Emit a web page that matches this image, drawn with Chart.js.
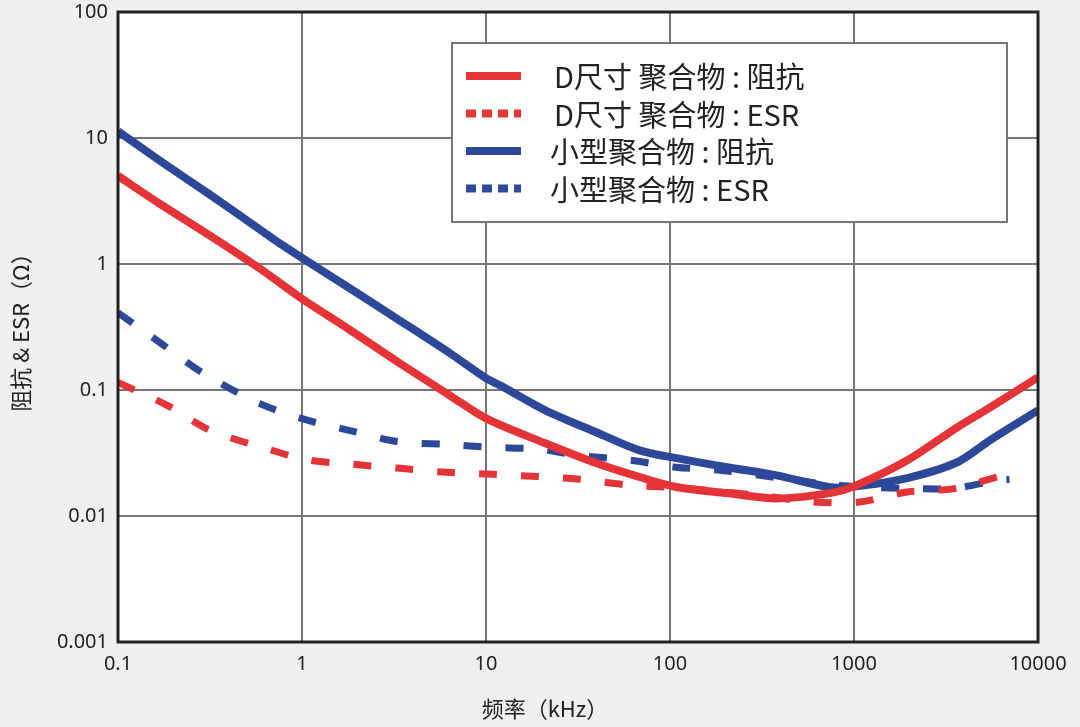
<!DOCTYPE html>
<html>
<head>
<meta charset="utf-8">
<script src="https://cdn.jsdelivr.net/npm/chart.js@4"></script>
<style>
  html, body { margin: 0; padding: 0; background: #f0f0f0; }
  #wrap { width: 1080px; height: 727px; position: relative; }
</style>
</head>
<body>
<div id="wrap"><canvas id="chart" width="1080" height="727"></canvas></div>
<script>
// values (frequency in kHz, ohms)
const dImpFreq = [0.1, 0.169, 0.316, 0.59, 1, 1.82, 3.4, 6.4, 10, 21, 40, 69, 110, 204, 380, 741, 1000, 1950, 3640, 5500, 10000];
const dImpVal  = [5.0, 3.0, 1.68, 0.92, 0.53, 0.30, 0.163, 0.09, 0.0596, 0.0378, 0.0262, 0.0203, 0.0169, 0.0152, 0.0138, 0.0152, 0.0172, 0.0277, 0.0506, 0.0728, 0.126];

const dEsrFreq = [0.1, 0.185, 0.316, 0.61, 1.06, 1.9, 3.3, 6.1, 10.9, 19, 32, 61, 107, 200, 350, 598, 1070, 1950, 3500, 6000, 6800];
const dEsrVal  = [0.115, 0.0755, 0.0478, 0.035, 0.028, 0.0257, 0.024, 0.0222, 0.0214, 0.0206, 0.0196, 0.0175, 0.0168, 0.0155, 0.0142, 0.0129, 0.0129, 0.0155, 0.0165, 0.0204, 0.021];

const smImpFreq = [0.1, 0.169, 0.316, 0.59, 0.76, 1, 1.82, 3.4, 6.4, 10, 11.9, 21, 40, 69, 110, 204, 380, 741, 1000, 1950, 3640, 5500, 10000];
const smImpVal  = [11.3, 6.6, 3.55, 1.88, 1.45, 1.12, 0.64, 0.356, 0.195, 0.124, 0.109, 0.069, 0.046, 0.033, 0.0287, 0.0244, 0.021, 0.0169, 0.0171, 0.020, 0.0267, 0.040, 0.069];

const smEsrFreq = [0.1, 0.169, 0.29, 0.59, 1.08, 1.9, 3.3, 6.1, 10.9, 19, 32, 61, 107, 190, 400, 800, 1860, 3500, 6000, 7000];
const smEsrVal  = [0.41, 0.238, 0.136, 0.078, 0.0574, 0.047, 0.039, 0.037, 0.035, 0.034, 0.0303, 0.0277, 0.0244, 0.023, 0.020, 0.0175, 0.0166, 0.0166, 0.0192, 0.0195];

const seriesNames = ['D尺寸 聚合物 : 阻抗', 'D尺寸 聚合物 : ESR', '小型聚合物 : 阻抗', '小型聚合物 : ESR'];
const xTicks = [0.1, 1, 10, 100, 1000, 10000];
const yTicks = [0.001, 0.01, 0.1, 1, 10, 100];
const xTitle = '频率（kHz）';
const yTitle = '阻抗 & ESR（Ω）';

const RED = '#e53437';
const BLUE = '#2d4898';
const DASH = [18, 24];

const toPoints = (xs, ys) => xs.map((x, i) => ({ x: x, y: ys[i] }));

const frame = {
    id: 'frame',
    beforeDraw(chart) {
        const { ctx, chartArea: a } = chart;
        ctx.save();
        ctx.fillStyle = '#ffffff';
        ctx.fillRect(a.left, a.top, a.right - a.left, a.bottom - a.top);
        ctx.restore();
    },
    afterDatasetsDraw(chart) {
        const { ctx, chartArea: a } = chart;
        ctx.save();
        ctx.strokeStyle = '#222';
        ctx.lineWidth = 3;
        ctx.strokeRect(a.left, a.top, a.right - a.left, a.bottom - a.top);

        // legend box inside the plot
        const bx = a.left + 334, by = a.top + 31, bw = 555, bh = 179;
        ctx.fillStyle = '#ffffff';
        ctx.fillRect(bx, by, bw, bh);
        ctx.strokeStyle = '#777';
        ctx.lineWidth = 2;
        ctx.strokeRect(bx, by, bw, bh);
        chart.data.datasets.forEach((ds, i) => {
            const cy = by + 33 + i * 37.5;
            ctx.strokeStyle = ds.borderColor;
            ctx.lineWidth = 8;
            ctx.setLineDash(ds.borderDash && ds.borderDash.length ? [10, 6] : []);
            ctx.beginPath();
            ctx.moveTo(bx + 14, cy);
            ctx.lineTo(bx + 69, cy);
            ctx.stroke();
            ctx.setLineDash([]);
            ctx.fillStyle = '#222';
            ctx.font = '29px "Noto Sans CJK SC", "Noto Sans", sans-serif';
            ctx.textBaseline = 'middle';
            ctx.textAlign = 'left';
            ctx.fillText(ds.label, bx + (i < 2 ? 102 : 98), cy + 1);
        });

        // axis titles
        ctx.fillStyle = '#222';
        ctx.font = '22px "Noto Sans CJK SC", "Noto Sans", sans-serif';
        ctx.textAlign = 'center';
        ctx.textBaseline = 'middle';
        ctx.fillText(xTitle, 545, 709);
        ctx.translate(21, (a.top + a.bottom) / 2);
        ctx.rotate(-Math.PI / 2);
        ctx.fillText(yTitle, 0, 0);
        ctx.restore();
    }
};

const fmt = v => String(v);

new Chart(document.getElementById('chart'), {
    type: 'line',
    data: {
        datasets: [
            { label: seriesNames[0], data: toPoints(dImpFreq, dImpVal), borderColor: RED, borderWidth: 8, borderDash: [] },
            { label: seriesNames[1], data: toPoints(dEsrFreq, dEsrVal), borderColor: RED, borderWidth: 7, borderDash: DASH },
            { label: seriesNames[2], data: toPoints(smImpFreq, smImpVal), borderColor: BLUE, borderWidth: 8, borderDash: [] },
            { label: seriesNames[3], data: toPoints(smEsrFreq, smEsrVal), borderColor: BLUE, borderWidth: 7, borderDash: DASH }
        ]
    },
    options: {
        responsive: false,
        animation: false,
        layout: { padding: { left: 0, right: 42, top: 12, bottom: 0 } },
        elements: { point: { radius: 0 }, line: { tension: 0.3, borderCapStyle: 'butt', fill: false } },
        plugins: { legend: { display: false }, tooltip: { enabled: false } },
        scales: {
            x: {
                type: 'logarithmic',
                min: 0.1, max: 10000,
                afterBuildTicks: s => { s.ticks = xTicks.map(v => ({ value: v })); },
                afterFit: s => { s.height = 85; s.paddingLeft = 0; s.paddingRight = 0; },
                grid: { color: '#777', lineWidth: 2, drawTicks: false },
                border: { display: false },
                ticks: { callback: fmt, color: '#222', padding: 10, maxRotation: 0, autoSkip: false,
                         font: { family: '"Noto Sans", sans-serif', size: 20 } }
            },
            y: {
                type: 'logarithmic',
                min: 0.001, max: 100,
                afterBuildTicks: s => { s.ticks = yTicks.map(v => ({ value: v })); },
                afterFit: s => { s.width = 118; s.paddingTop = 0; s.paddingBottom = 0; },
                grid: { color: '#777', lineWidth: 2, drawTicks: false },
                border: { display: false },
                ticks: { callback: fmt, color: '#222', padding: 10, autoSkip: false,
                         font: { family: '"Noto Sans", sans-serif', size: 20 } }
            }
        }
    },
    plugins: [frame]
});
</script>
</body>
</html>
